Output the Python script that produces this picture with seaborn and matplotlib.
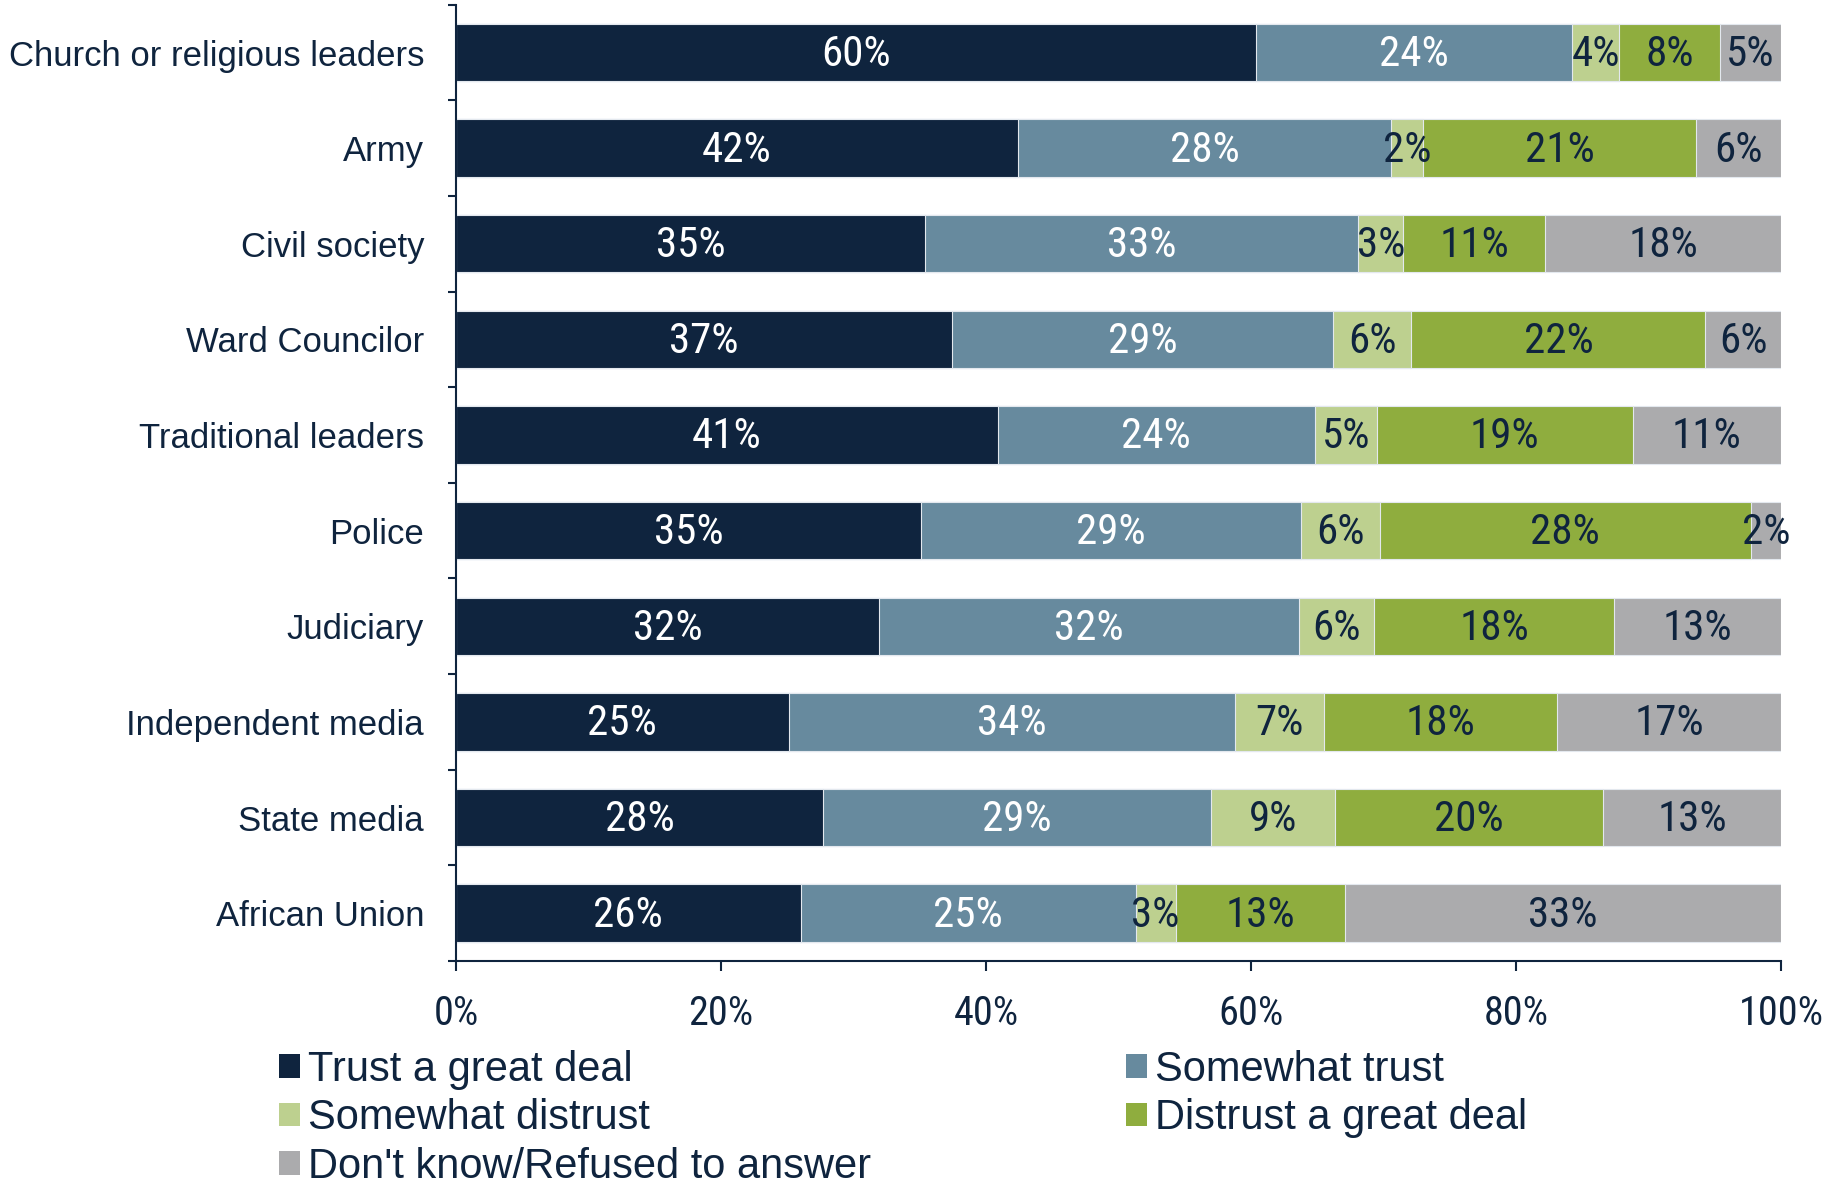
import matplotlib
matplotlib.use("Agg")
import matplotlib.pyplot as plt
from matplotlib import font_manager
from matplotlib.patches import Patch
import numpy as np
import pandas as pd
import seaborn as sns

categories = ["Church or religious leaders", "Army", "Civil society", "Ward Councilor",
              "Traditional leaders", "Police", "Judiciary", "Independent media",
              "State media", "African Union"]
series = ["Trust a great deal", "Somewhat trust", "Somewhat distrust",
          "Distrust a great deal", "Don't know/Refused to answer"]

# shares (the printed labels are rounded)
trust_great = [60.4, 42.4, 35.4, 37.4, 40.9, 35.1, 31.9, 25.1, 27.7, 26.0]
somewhat_trust = [23.8, 28.2, 32.7, 28.8, 23.9, 28.7, 31.7, 33.7, 29.3, 25.3]
somewhat_distrust = [3.6, 2.4, 3.4, 5.9, 4.7, 5.9, 5.7, 6.7, 9.3, 3.0]
distrust_great = [7.6, 20.6, 10.7, 22.2, 19.3, 28.0, 18.1, 17.6, 20.3, 12.8]
dont_know = [4.6, 6.4, 17.8, 5.7, 11.2, 2.3, 12.6, 16.9, 13.4, 32.9]

xticks = [0, 20, 40, 60, 80, 100]

colors = ["#0f243e", "#678a9e", "#bdd08f", "#8fad3e", "#ababad"]
label_colors = ["white", "white", "#0f243e", "#0f243e", "#0f243e"]
NAVY = "#0f243e"

sns.set_style("white")
installed = {f.name for f in font_manager.fontManager.ttflist}
text_font = "Liberation Sans" if "Liberation Sans" in installed else "DejaVu Sans"
num_font, num_size, tick_size = text_font, 26, 26
for name in ["Liberation Sans Narrow", "Roboto Condensed", "Open Sans Condensed"]:
    if name in installed:
        num_font, num_size, tick_size = name, 31, 29
        break
plt.rcParams["font.family"] = [text_font, "DejaVu Sans"]

values = np.array([trust_great, somewhat_trust, somewhat_distrust,
                   distrust_great, dont_know]).T
cum = values.cumsum(axis=1)

df = pd.DataFrame(cum, columns=series)
df["category"] = categories

fig = plt.figure(figsize=(18.25, 11.87), dpi=100)
ax = fig.add_axes([0.2499, 0.1904, 0.726, 0.8056])

# stacked bars: draw cumulative totals from the last segment back to the first
for i in reversed(range(len(series))):
    sns.barplot(data=df, x=series[i], y="category", orient="h", color=colors[i],
                saturation=1, width=0.6, errorbar=None, ax=ax,
                edgecolor="#e3e8ee", linewidth=0.8)

for row in range(len(categories)):
    for i in range(len(series)):
        mid = cum[row, i] - values[row, i] / 2
        ax.text(mid, row + 0.02, f"{values[row, i]:.0f}%", ha="center", va="center",
                color=label_colors[i], fontsize=num_size,
                family=[num_font, "DejaVu Sans"])

ax.set(xlabel="", ylabel="")
ax.set_xlim(0, 100)
ax.set_ylim(len(categories) - 0.5, -0.5)

ax.set_xticks(xticks)
ax.set_xticklabels([f"{t}%" for t in xticks], family=[num_font, "DejaVu Sans"],
                   fontsize=tick_size, color=NAVY)
ax.tick_params(axis="x", direction="out", length=7, width=1.5, color=NAVY, pad=17,
               bottom=True)

ax.set_yticks(range(len(categories)))
ax.set_yticklabels(categories, fontsize=25, color=NAVY)
ax.set_yticks(np.arange(-0.5, len(categories), 1), minor=True)
ax.tick_params(axis="y", which="major", length=0, pad=23)
ax.tick_params(axis="y", which="minor", direction="out", length=6, width=1.5,
               color=NAVY, left=True)

sns.despine(ax=ax)
for side in ["left", "bottom"]:
    ax.spines[side].set_color(NAVY)
    ax.spines[side].set_linewidth(1.5)

# legend filled row by row, two columns
order = [0, 2, 4, 1, 3]
handles = [Patch(facecolor=colors[i], edgecolor="none") for i in order]
fig.legend(handles, [series[i] for i in order], loc="upper left",
           bbox_to_anchor=(0.153, 0.1155), ncol=2, frameon=False, fontsize=30,
           labelcolor=NAVY, handlelength=0.5, handleheight=0.5, handletextpad=0.2,
           columnspacing=6.1, labelspacing=0.2, borderpad=0, borderaxespad=0)

fig.savefig("out.png", dpi=100)
